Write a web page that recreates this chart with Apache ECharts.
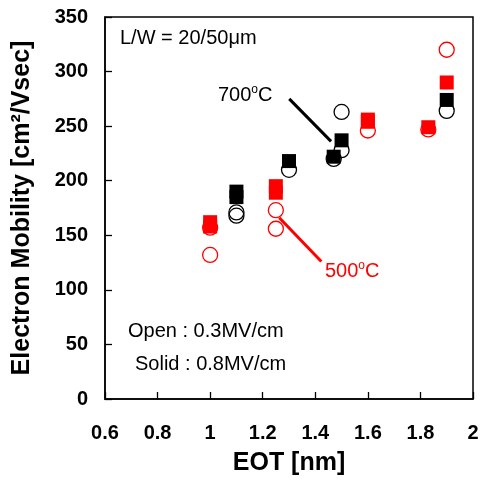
<!DOCTYPE html>
<html>
<head>
<meta charset="utf-8">
<script src="https://cdn.jsdelivr.net/npm/echarts@6/dist/echarts.min.js"></script>
<style>
  html, body { margin: 0; padding: 0; background: #fff; }
  #divChart { width: 480px; height: 483px; }
</style>
</head>
<body>
<div id="divChart"></div>
<script>
    // 数据 [EOT(nm), mobility]
    var red500Solid = [[1.0, 158], [1.0, 162], [1.25, 189], [1.25, 195], [1.6, 254], [1.6, 256], [1.83, 249], [1.9, 290]];
    var red500Open = [[1.0, 132], [1.0, 157], [1.25, 156], [1.25, 173], [1.6, 246], [1.83, 247], [1.9, 320]];
    var black700Solid = [[1.1, 185], [1.1, 190], [1.3, 218], [1.47, 222], [1.5, 237], [1.9, 274]];
    var black700Open = [[1.1, 168], [1.1, 171], [1.3, 210], [1.47, 220], [1.5, 228], [1.5, 263], [1.9, 264]];
    var leader700 = [[1.301, 275], [1.46, 236]];
    var leader500 = [[1.263, 166], [1.423, 126]];

    var font = 'Liberation Sans, Arial, sans-serif';
    var myChart = echarts.init(document.getElementById('divChart'));

    function openSeries(data, color) {
        return {
            type: 'scatter', data: data, symbol: 'circle', symbolSize: 15, z: 2,
            itemStyle: { color: 'transparent', borderColor: color, borderWidth: 1.3, opacity: 1 }
        };
    }
    function solidSeries(data, color) {
        return {
            type: 'scatter', data: data, symbol: 'rect', symbolSize: 14, z: 3,
            itemStyle: { color: color, opacity: 1 }
        };
    }
    function leader(data, color) {
        return {
            type: 'line', data: data, symbol: 'none', z: 4,
            lineStyle: { color: color, width: 3 }
        };
    }
    function degLabel(num, color) {
        return {
            rich: {
                a: { font: '20px ' + font, fill: color, lineHeight: 22 },
                s: { font: '12px ' + font, fill: color, lineHeight: 22, verticalAlign: 'top', padding: [0, 0, 6, 0] }
            },
            text: '{a|' + num + '}{s|o}{a|C}'
        };
    }

    var option = {
        animation: false,
        grid: { left: 105, right: 7, top: 17, bottom: 84, outerBoundsMode: 'none', containLabel: false },
        xAxis: {
            type: 'value', min: 0.6, max: 2, interval: 0.2,
            name: 'EOT [nm]', nameLocation: 'middle', nameGap: 52,
            nameTextStyle: { fontFamily: font, fontWeight: 'bold', fontSize: 25, color: '#000' },
            axisLine: { onZero: false, lineStyle: { color: '#000', width: 1.5 } },
            axisTick: { inside: true, length: 7, lineStyle: { color: '#000', width: 1.3 } },
            axisLabel: { fontFamily: font, fontWeight: 'bold', fontSize: 20, color: '#000', margin: 24,
                formatter: function (v) { return String(Math.round(v * 10) / 10); } },
            splitLine: { show: false }
        },
        yAxis: {
            type: 'value', min: 0, max: 350, interval: 50,
            name: 'Electron Mobility [cm²/Vsec]', nameLocation: 'middle', nameGap: 70,
            nameTextStyle: { fontFamily: font, fontWeight: 'bold', fontSize: 25, color: '#000' },
            axisLine: { lineStyle: { color: '#000', width: 1.5 } },
            axisTick: { inside: true, length: 7, lineStyle: { color: '#000', width: 1.3 } },
            axisLabel: { fontFamily: font, fontWeight: 'bold', fontSize: 20, color: '#000', margin: 17 },
            splitLine: { show: false }
        },
        graphic: [
            { type: 'rect', shape: { x: 105, y: 17, width: 368, height: 382 }, style: { fill: 'none', stroke: '#000', lineWidth: 1.5 }, silent: true },
            { type: 'text', left: 120, top: 28, style: { text: 'L/W = 20/50μm', font: '20px ' + font, fill: '#000' } },
            { type: 'text', left: 218, top: 84, style: degLabel('700', '#000') },
            { type: 'text', left: 325, top: 260, style: degLabel('500', '#ff0000') },
            { type: 'text', left: 128, top: 321, style: { text: 'Open : 0.3MV/cm', font: '20px ' + font, fill: '#000' } },
            { type: 'text', left: 135, top: 354, style: { text: 'Solid : 0.8MV/cm', font: '20px ' + font, fill: '#000' } }
        ],
        series: [
            openSeries(red500Open, '#ff0000'),
            openSeries(black700Open, '#000'),
            solidSeries(red500Solid, '#ff0000'),
            solidSeries(black700Solid, '#000'),
            leader(leader700, '#000'),
            leader(leader500, '#ff0000')
        ]
    };
    myChart.setOption(option);
</script>
</body>
</html>
